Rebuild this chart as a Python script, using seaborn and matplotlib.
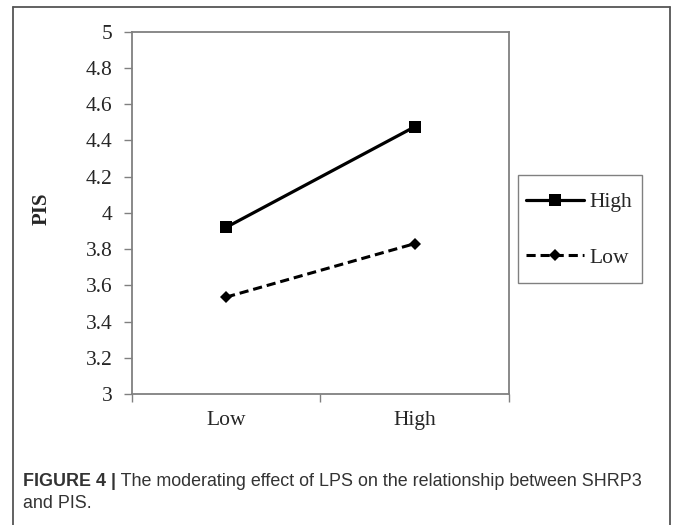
import matplotlib
matplotlib.use("Agg")
import matplotlib.pyplot as plt
from matplotlib.lines import Line2D
from matplotlib.patches import Rectangle
import seaborn as sns
import pandas as pd

# Data
categories = ["Low", "High"]          # SHRP3 level (x axis)
high_lps = [3.92, 4.475]              # moderator LPS = High
low_lps = [3.535, 3.83]               # moderator LPS = Low
y_ticks = [3, 3.2, 3.4, 3.6, 3.8, 4, 4.2, 4.4, 4.6, 4.8, 5]
y_tick_labels = ["3", "3.2", "3.4", "3.6", "3.8", "4", "4.2", "4.4", "4.6", "4.8", "5"]
caption_bold = "FIGURE 4 |"
caption_rest = " The moderating effect of LPS on the relationship between SHRP3"
caption_line2 = "and PIS."

sns.set_theme(style="white")
plt.rcParams["font.family"] = ["Liberation Serif", "DejaVu Serif"]

df = pd.DataFrame({
    "x": [i + 0.5 for i in range(len(categories))] * 2,
    "PIS": high_lps + low_lps,
    "group": ["High"] * len(categories) + ["Low"] * len(categories),
})

fig = plt.figure(figsize=(6.73, 5.25), dpi=100)
ax = fig.add_axes([0.196, 0.2495, 0.560, 0.690])

sns.lineplot(data=df, x="x", y="PIS", hue="group", style="group",
             palette={"High": "black", "Low": "black"},
             dashes={"High": "", "Low": (3, 1.6)},
             markers={"High": "s", "Low": "D"},
             ax=ax, legend=False)
lines = ax.get_lines()
lines[0].set_linewidth(2.3)
lines[0].set_markersize(8.5)
lines[1].set_linewidth(2.2)
lines[1].set_markersize(6)
for ln in lines:
    ln.set_markeredgewidth(0)

ax.set_xlim(0, len(categories))
ax.set_ylim(3, 5)
ax.set_yticks(y_ticks)
ax.set_yticklabels(y_tick_labels)
ax.set_xticks(range(len(categories) + 1))
ax.set_xticklabels([])
ax.set_xticks([i + 0.5 for i in range(len(categories))], minor=True)
ax.set_xticklabels(categories, minor=True)
ax.tick_params(axis="x", which="minor", length=0, pad=12, labelsize=15.5)
ax.tick_params(axis="x", which="major", length=6, width=1, color="#808080", direction="out")
ax.tick_params(axis="y", length=6, width=1, color="#808080", direction="out",
               labelsize=15.5, pad=8)
ax.tick_params(bottom=True, left=True)
for s in ax.spines.values():
    s.set_color("#808080")
    s.set_linewidth(1.3)
ax.set_xlabel("")
ax.set_ylabel("PIS", fontsize=15, fontweight="bold")
ax.yaxis.set_label_coords(-0.212, 0.511)

handles = [
    Line2D([], [], color="black", lw=2.3, marker="s", markersize=8.5, markeredgewidth=0),
    Line2D([], [], color="black", lw=2.2, ls=(0, (3, 1.6)), marker="D", markersize=6,
           markeredgewidth=0),
]
# legend box drawn separately: x 518..642 px, y 175..283 px
fig.add_artist(Rectangle((518 / 673, 1 - 283 / 525), 124 / 673, 108 / 525,
                         transform=fig.transFigure, facecolor="white",
                         edgecolor="#808080", lw=1.0))
leg = fig.legend(handles, ["High", "Low"], loc="center left",
                 bbox_to_anchor=(522 / 673, 1 - 230 / 525),
                 bbox_transform=fig.transFigure,
                 fontsize=15.5, frameon=False, handlelength=2.7, handletextpad=0.25,
                 labelspacing=1.65, borderpad=0.2, borderaxespad=0, numpoints=1)

# Outer frame around the figure panel (open at the bottom)
frame_kw = dict(transform=fig.transFigure, color="#555555", lw=1.3)
x0, x1, y1 = 13 / 673, 670 / 673, 1 - 7 / 525
fig.add_artist(Line2D([x0, x1], [y1, y1], **frame_kw))
fig.add_artist(Line2D([x0, x0], [0, y1], **frame_kw))
fig.add_artist(Line2D([x1, x1], [0, y1], **frame_kw))

# Caption
cap_font = ["Liberation Sans", "DejaVu Sans"]
cap_size = 12.9
t = fig.text(23 / 673, 1 - 481 / 525, caption_bold, family=cap_font, fontsize=cap_size,
             fontweight="bold", color="#333333", va="center")
fig.canvas.draw()
bb = t.get_window_extent()
fig.text(bb.x1 / fig.bbox.width, 1 - 481 / 525, caption_rest, family=cap_font,
         fontsize=cap_size, color="#333333", va="center")
fig.text(23 / 673, 1 - 504 / 525, caption_line2, family=cap_font, fontsize=cap_size,
         color="#333333", va="center")

fig.savefig("out.png", dpi=100)
